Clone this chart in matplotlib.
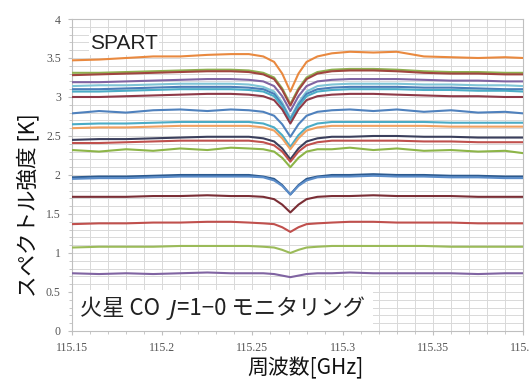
import matplotlib
matplotlib.use('Agg')
import matplotlib.pyplot as plt
import matplotlib.patches as patches
from matplotlib.ticker import MultipleLocator, FormatStrFormatter

# Frequency grid (GHz), shared by all spectra
freq = [115.150, 115.165, 115.180, 115.195, 115.210, 115.225, 115.238, 115.248,
        115.256, 115.262, 115.2665, 115.271, 115.2755, 115.280, 115.286, 115.294,
        115.304, 115.317, 115.330, 115.345, 115.360, 115.375, 115.390, 115.400]

# Spectra, top to bottom
s01 = [3.47, 3.48, 3.50, 3.52, 3.52, 3.54, 3.55, 3.55, 3.52, 3.45, 3.30, 3.07, 3.30, 3.45, 3.52, 3.56, 3.58, 3.57, 3.58, 3.52, 3.51, 3.50, 3.51, 3.50]
s02 = [3.31, 3.31, 3.32, 3.33, 3.34, 3.35, 3.35, 3.34, 3.31, 3.25, 3.11, 2.91, 3.11, 3.25, 3.32, 3.35, 3.36, 3.36, 3.35, 3.33, 3.32, 3.32, 3.31, 3.31]
s03 = [3.28, 3.29, 3.30, 3.31, 3.32, 3.33, 3.33, 3.32, 3.29, 3.23, 3.09, 2.89, 3.09, 3.23, 3.30, 3.33, 3.34, 3.34, 3.33, 3.31, 3.30, 3.30, 3.29, 3.29]
s04 = [3.19, 3.19, 3.20, 3.21, 3.22, 3.23, 3.23, 3.22, 3.20, 3.14, 3.01, 2.82, 3.01, 3.14, 3.20, 3.22, 3.23, 3.23, 3.23, 3.22, 3.21, 3.21, 3.20, 3.20]
s05 = [3.14, 3.15, 3.15, 3.16, 3.17, 3.17, 3.17, 3.16, 3.13, 3.07, 2.93, 2.73, 2.93, 3.07, 3.14, 3.16, 3.17, 3.17, 3.17, 3.16, 3.16, 3.15, 3.15, 3.14]
s06 = [3.10, 3.10, 3.11, 3.12, 3.13, 3.13, 3.13, 3.12, 3.10, 3.04, 2.90, 2.71, 2.90, 3.04, 3.10, 3.12, 3.13, 3.13, 3.13, 3.12, 3.12, 3.11, 3.10, 3.10]
s07 = [3.07, 3.07, 3.08, 3.09, 3.10, 3.10, 3.10, 3.09, 3.07, 3.01, 2.88, 2.70, 2.88, 3.01, 3.07, 3.09, 3.10, 3.10, 3.10, 3.09, 3.09, 3.08, 3.08, 3.07]
s08 = [3.00, 3.00, 3.01, 3.02, 3.03, 3.04, 3.04, 3.03, 3.01, 2.96, 2.84, 2.66, 2.84, 2.96, 3.01, 3.03, 3.04, 3.04, 3.03, 3.02, 3.01, 3.01, 3.00, 3.00]
s09 = [2.79, 2.82, 2.80, 2.83, 2.84, 2.82, 2.84, 2.83, 2.81, 2.76, 2.65, 2.49, 2.65, 2.76, 2.81, 2.83, 2.84, 2.82, 2.84, 2.81, 2.83, 2.80, 2.81, 2.79]
s10 = [2.65, 2.66, 2.66, 2.67, 2.68, 2.68, 2.68, 2.68, 2.66, 2.61, 2.51, 2.36, 2.51, 2.61, 2.66, 2.68, 2.68, 2.68, 2.68, 2.68, 2.67, 2.67, 2.67, 2.67]
s11 = [2.60, 2.61, 2.61, 2.62, 2.63, 2.63, 2.63, 2.63, 2.61, 2.57, 2.47, 2.33, 2.47, 2.57, 2.61, 2.63, 2.63, 2.63, 2.63, 2.63, 2.62, 2.62, 2.62, 2.62]
s12 = [2.45, 2.46, 2.46, 2.47, 2.48, 2.49, 2.49, 2.49, 2.47, 2.43, 2.34, 2.20, 2.34, 2.43, 2.47, 2.49, 2.49, 2.50, 2.50, 2.49, 2.49, 2.48, 2.48, 2.48]
s13 = [2.41, 2.41, 2.42, 2.43, 2.44, 2.44, 2.44, 2.44, 2.42, 2.38, 2.30, 2.17, 2.30, 2.38, 2.42, 2.44, 2.44, 2.44, 2.44, 2.43, 2.43, 2.42, 2.42, 2.42]
s14 = [2.32, 2.30, 2.33, 2.31, 2.34, 2.32, 2.35, 2.34, 2.33, 2.30, 2.22, 2.10, 2.22, 2.30, 2.33, 2.33, 2.35, 2.32, 2.34, 2.31, 2.32, 2.30, 2.31, 2.28]
s15 = [1.97, 1.98, 1.98, 1.99, 2.00, 2.00, 2.00, 2.00, 1.98, 1.95, 1.87, 1.75, 1.87, 1.95, 1.98, 2.00, 2.00, 2.01, 2.00, 2.00, 1.99, 1.99, 1.98, 1.98]
s16 = [1.95, 1.96, 1.96, 1.97, 1.98, 1.98, 1.98, 1.98, 1.97, 1.93, 1.86, 1.75, 1.86, 1.93, 1.97, 1.98, 1.98, 1.99, 1.98, 1.98, 1.97, 1.97, 1.96, 1.96]
s17 = [1.72, 1.72, 1.72, 1.73, 1.73, 1.74, 1.73, 1.73, 1.72, 1.69, 1.62, 1.52, 1.62, 1.69, 1.72, 1.73, 1.73, 1.74, 1.73, 1.73, 1.73, 1.72, 1.72, 1.72]
s18 = [1.37, 1.38, 1.38, 1.39, 1.39, 1.40, 1.40, 1.39, 1.38, 1.37, 1.33, 1.27, 1.33, 1.37, 1.38, 1.39, 1.40, 1.40, 1.39, 1.39, 1.39, 1.38, 1.38, 1.38]
s19 = [1.07, 1.08, 1.08, 1.08, 1.09, 1.09, 1.09, 1.09, 1.08, 1.07, 1.04, 1.00, 1.04, 1.07, 1.08, 1.09, 1.09, 1.09, 1.09, 1.09, 1.08, 1.08, 1.08, 1.08]
s20 = [0.74, 0.73, 0.74, 0.73, 0.74, 0.75, 0.74, 0.74, 0.74, 0.73, 0.71, 0.69, 0.71, 0.73, 0.74, 0.74, 0.75, 0.74, 0.74, 0.74, 0.74, 0.73, 0.74, 0.74]

spectra = [s01, s02, s03, s04, s05, s06, s07, s08, s09, s10,
           s11, s12, s13, s14, s15, s16, s17, s18, s19, s20]
colors = ['#E9893F', '#8FB050', '#A0453F', '#8064A2', '#7FC4D6',
          '#4A7DB8', '#4BACC6', '#8E3A48', '#4F81BD', '#4BACC6',
          '#F0A060', '#3B3F5C', '#C0504D', '#8DB548', '#2C5A8F',
          '#5B8CC8', '#7A2E35', '#C0504D', '#9BBB59', '#8064A2']

xticks = [115.15, 115.2, 115.25, 115.3, 115.35, 115.4]
yticks = [0, 0.5, 1, 1.5, 2, 2.5, 3, 3.5, 4]

cjk = ['Noto Sans CJK JP', 'DejaVu Sans']

fig = plt.figure(figsize=(5.29, 3.80), dpi=100)
ax = fig.add_axes([0.136, 0.129, 0.853, 0.821])

for ys, c in zip(spectra, colors):
	ax.plot(freq, ys, color=c, lw=1.5, zorder=3)

ax.set_xlim(115.15, 115.4)
ax.set_ylim(0, 4)
ax.set_xticks(xticks)
ax.set_yticks(yticks)
ax.xaxis.set_minor_locator(MultipleLocator(0.01))
ax.yaxis.set_minor_locator(MultipleLocator(0.1))
ax.xaxis.set_major_formatter(FormatStrFormatter('%g'))
ax.yaxis.set_major_formatter(FormatStrFormatter('%g'))
ax.grid(which='both', color='#d9d9d9', lw=0.7, zorder=0)
ax.set_axisbelow(True)
for sp in ax.spines.values():
	sp.set_color('#bfbfbf')
ax.tick_params(which='major', length=3, color='#bfbfbf', labelsize=8.5,
	labelcolor='#555555', pad=5)
ax.tick_params(which='minor', length=2, color='#bfbfbf')
for lab in ax.get_xticklabels() + ax.get_yticklabels():
	lab.set_family('Liberation Serif')

# white box behind the bottom caption
ax.add_patch(patches.Rectangle((0, 0), 0.667, 0.13, transform=ax.transAxes,
	facecolor='white', edgecolor='none', zorder=2))

ax.text(0.04, 0.92, 'SPART', transform=ax.transAxes, fontsize=15,
	family='Liberation Sans', color='#222222', va='center', ha='left', zorder=4,
	bbox=dict(facecolor='white', edgecolor='none', pad=1))

t1 = ax.text(0.018, 0.035, '火星 CO  ', transform=ax.transAxes, fontsize=16,
	family=cjk, color='#222222', va='bottom', ha='left', zorder=4)
t2 = ax.annotate('J', xy=(1, 0), xycoords=t1, fontsize=16, family='DejaVu Sans',
	style='italic', color='#222222', va='bottom', ha='left', zorder=4)
ax.annotate('=1−0 モニタリング', xy=(1, 0), xycoords=t2, fontsize=16, family=cjk,
	color='#222222', va='bottom', ha='left', zorder=4)

fig.text(0.053, 0.46, 'スペクトル強度 [K]', rotation=90, fontsize=15.5,
	family=cjk, color='#111111', ha='center', va='center')
fig.text(0.578, 0.03, '周波数[GHz]', fontsize=15, family=cjk,
	color='#111111', ha='center', va='center')

fig.savefig('out.png', dpi=100)
